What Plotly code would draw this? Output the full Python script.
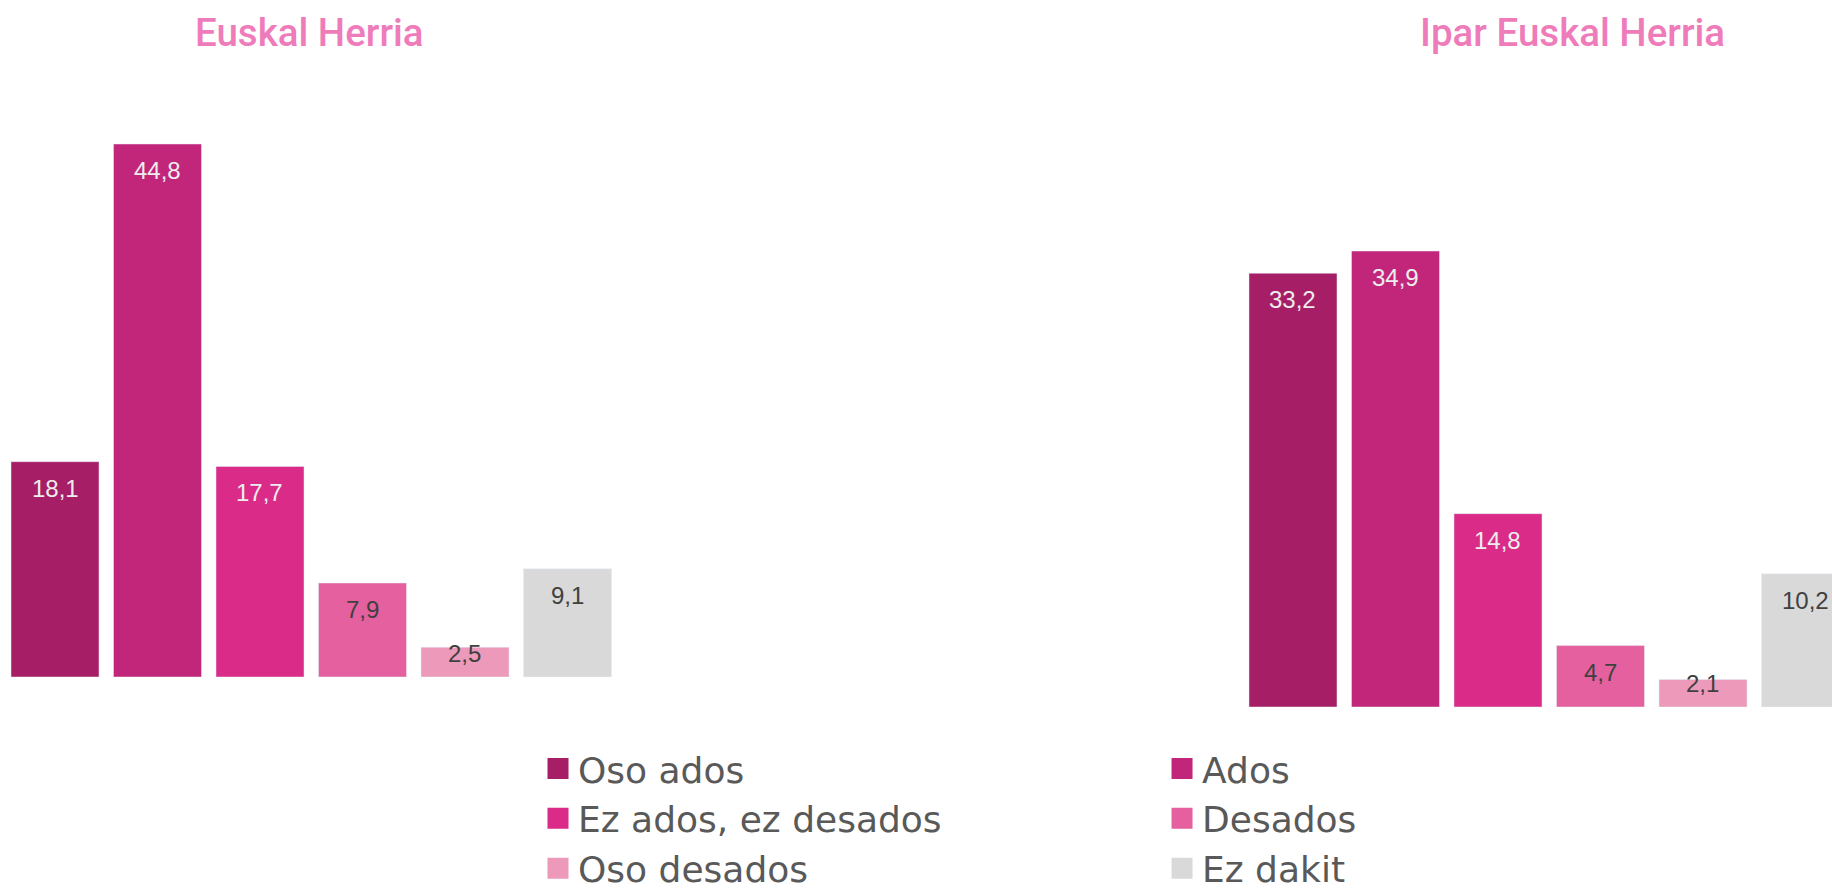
import plotly.graph_objects as go

# answers, in the order of the legend / bars
categories = ["Oso ados", "Ados", "Ez ados, ez desados", "Desados", "Oso desados", "Ez dakit"]
euskal_herria = [18.1, 44.8, 17.7, 7.9, 2.5, 9.1]
ipar_euskal_herria = [33.2, 34.9, 14.8, 4.7, 2.1, 10.2]
panel_titles = ["Euskal Herria", "Ipar Euskal Herria"]

colors = ["#A61E66", "#C2267A", "#D92B87", "#E5609E", "#ED99BA", "#D9D9D9"]
label_colors = ["#EDEDED", "#EDEDED", "#EDEDED", "#404040", "#404040", "#404040"]
TITLE_PINK = "#EF7CBA"

fig = go.Figure()

panels = [(euskal_herria, "x", "y"), (ipar_euskal_herria, "x2", "y2")]
for values, xa, ya in panels:
    for i, cat in enumerate(categories):
        fig.add_trace(go.Bar(x=[cat], y=[values[i]], marker_color=colors[i],
                             xaxis=xa, yaxis=ya, showlegend=False, hoverinfo="skip"))
        # value labels sit inside the top of the bar, short bars keep them off the baseline
        short = values[i] < 4
        fig.add_annotation(x=cat, y=0 if short else values[i], xref=xa, yref=ya,
                           text=f"{values[i]:.1f}".replace(".", ","), showarrow=False,
                           xanchor="center", yanchor="middle", yshift=23.5 if short else -26.5,
                           font=dict(family="Liberation Sans", size=24, color=label_colors[i]))

# legend entries: bigger squares than the bar icons, two columns
for i, cat in enumerate(categories):
    fig.add_trace(go.Scatter(x=[None], y=[None], mode="markers", name=cat,
                             marker=dict(symbol="square", size=16, color=colors[i],
                                         line=dict(color=colors[i], width=5)),
                             legend="legend" if i % 2 == 0 else "legend2"))

legend_style = dict(orientation="v", yanchor="top", xanchor="left", tracegroupgap=0,
                    bgcolor="rgba(0,0,0,0)", itemclick=False, itemdoubleclick=False,
                    font=dict(family="DejaVu Sans", size=36, color="#595959"))

title_xs = [0.1687, 0.8586]
for title, tx in zip(panel_titles, title_xs):
    fig.add_annotation(x=tx, y=0.9635, xref="paper", yref="paper", text=title,
                       xanchor="center", yanchor="middle", showarrow=False,
                       font=dict(family="Roboto", size=38.5, color=TITLE_PINK, weight=500))

fig.update_layout(
    width=1832, height=891,
    # legends run to the bottom edge; don't let them push the margins
    margin=dict(l=0, r=0, t=0, b=0, autoexpand=False),
    paper_bgcolor="white", plot_bgcolor="white",
    barmode="overlay", bargap=0.1415,
    xaxis=dict(domain=[0.00205, 0.33774], range=[-0.5, 5.5], visible=False,
               categoryorder="array", categoryarray=categories),
    yaxis=dict(domain=[0.24018, 0.9078], range=[0, 50], visible=False),
    xaxis2=dict(domain=[0.67781, 1.0], range=[-0.5, 5.2585], visible=False, anchor="y2",
                categoryorder="array", categoryarray=categories),
    yaxis2=dict(domain=[0.20651, 0.79304], range=[0, 40], visible=False, anchor="x2"),
    legend=dict(x=0.29367, y=0.171, **legend_style),
    legend2=dict(x=0.6343, y=0.171, **legend_style),
)

# the page's default body margin would push the fixed-size figure 8px off
fig.write_html("out.html", config={"displayModeBar": False},
               post_script="document.body.style.margin='0px';")
